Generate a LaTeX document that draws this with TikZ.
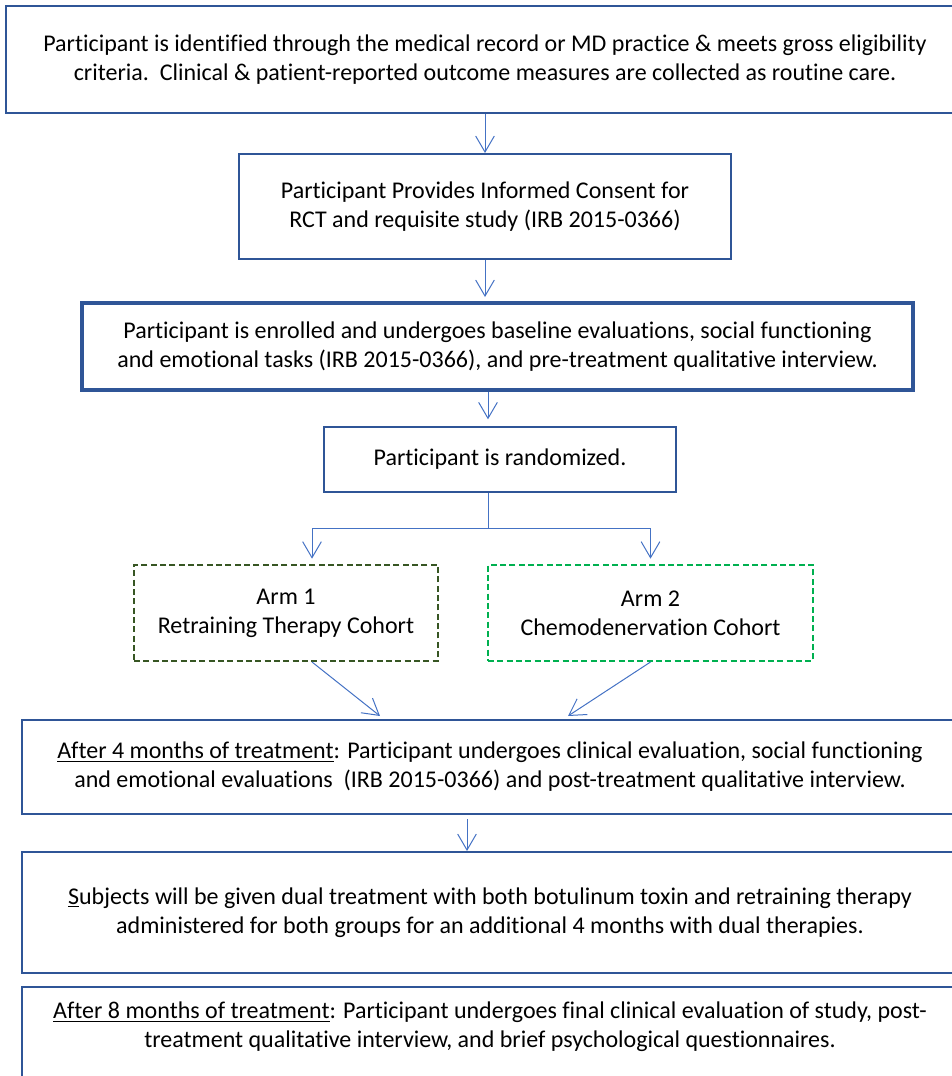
\documentclass[tikz,border=0pt]{standalone}
\usepackage{fontspec}
\setmainfont{Carlito}[Ligatures=NoCommon]
\usetikzlibrary{arrows.meta}

\definecolor{boxblue}{RGB}{47,85,151}
\definecolor{linkblue}{RGB}{68,114,196}
\definecolor{armolive}{RGB}{55,86,35}
\definecolor{armgreen}{RGB}{0,176,80}

\tikzset{every picture/.style={line width=0.75pt}}
\tikzset{
	stagebox/.style={draw=boxblue, line width=1.5pt, fill=white, align=center, inner sep=0pt, font=\fontsize{18}{21.75}\selectfont},
	armbox/.style={stagebox, dash pattern=on 4.5pt off 2.5pt},
	link/.style={draw=linkblue, line width=0.75pt},
	arr/.style={link, -{Straight Barb[length=12pt,width=14pt]}}
}

\begin{document}
\begin{tikzpicture}[x=0.75pt,y=0.75pt,yscale=-1,xscale=1]
	\useasboundingbox (0,0) rectangle (952,1076);
	\clip (0,0) rectangle (952,1076);

	%Shape: Rectangle [identification]
	\node[stagebox, minimum width=718.5pt, minimum height=80.25pt] (ident) at (485,59.5) {Participant is identified through the medical record or MD practice \& meets gross eligibility\\criteria.\ \ Clinical \& patient-reported outcome measures are collected as routine care.};
	%Shape: Rectangle [consent]
	\node[stagebox, minimum width=369pt, minimum height=78.75pt] (consent) at (485,206.5) {Participant Provides Informed Consent for\\RCT and requisite study (IRB 2015-0366)};
	%Shape: Rectangle [enrolment, thick]
	\node[stagebox, line width=3pt, minimum width=623.25pt, minimum height=65.25pt] (enrol) at (497.5,346.5) {Participant is enrolled and undergoes baseline evaluations, social functioning\\and emotional tasks (IRB 2015-0366), and pre-treatment qualitative interview.};
	%Shape: Rectangle [randomisation]
	\node[stagebox, minimum width=264pt, minimum height=48.75pt] (random) at (500,459.5) {Participant is randomized.};
	%Shape: Rectangle [arm 1, dashed]
	\node[armbox, draw=armolive, minimum width=228pt, minimum height=72pt] (arm1) at (286,613) {Arm 1\\Retraining Therapy Cohort};
	%Shape: Rectangle [arm 2, dashed]
	\node[armbox, draw=armgreen, minimum width=243.75pt, minimum height=72pt] (arm2) at (650.5,613) {Arm 2\\Chemodenervation Cohort};
	%Shape: Rectangle [4 months]
	\node[stagebox, minimum width=702pt, minimum height=70.5pt] (after4) at (490,767) {\underline{After 4 months of treatment}: Participant undergoes clinical evaluation, social functioning\\and emotional evaluations\ \ (IRB 2015-0366) and post-treatment qualitative interview.};
	%Shape: Rectangle [dual treatment]
	\node[stagebox, minimum width=702pt, minimum height=90.75pt] (dual) at (490,912.5) {\underline{S}ubjects will be given dual treatment with both botulinum toxin and retraining therapy\\administered for both groups for an additional 4 months with dual therapies.};
	%Shape: Rectangle [8 months, runs off the page]
	\node[stagebox, minimum width=702pt, minimum height=92.25pt] (after8) at (490,1048.5) {};
	% Text Node
	\node[font=\fontsize{18}{21.75}\selectfont, align=center] (after8txt) at (490,1027) {\underline{After 8 months of treatment}: Participant undergoes final clinical evaluation of study, post-\\treatment qualitative interview, and brief psychological questionnaires.};

	%Straight Lines [fork]
	\coordinate (split) at (488,528);
	\coordinate (fork1) at (312,528);
	\coordinate (fork2) at (650.5,528);
	\coordinate (in1) at (380,716);
	\coordinate (in2) at (568,716);
	\coordinate (down) at (467,800);

	\draw[arr] (ident.south) -- (consent.north);
	\draw[arr, shorten >=3pt] (consent.south) -- (consent.south |- enrol.north);
	\draw[arr, shorten >=5pt] (enrol.south -| split) -- (random.north -| split);
	\draw[link] (random.south -| split) -- (split);
	\draw[link] (fork1) -- (fork2);
	\draw[arr, shorten >=4pt] (fork1) -- (fork1 |- arm1.north);
	\draw[arr, shorten >=4pt] (fork2) -- (arm2.north);
	\draw[arr] (arm1.south -| fork1) -- (in1);
	\draw[arr] (arm2.south) -- (in2);
	\draw[arr, shorten <=3pt] (after4.south -| down) -- (dual.north -| down);

\end{tikzpicture}
\end{document}
